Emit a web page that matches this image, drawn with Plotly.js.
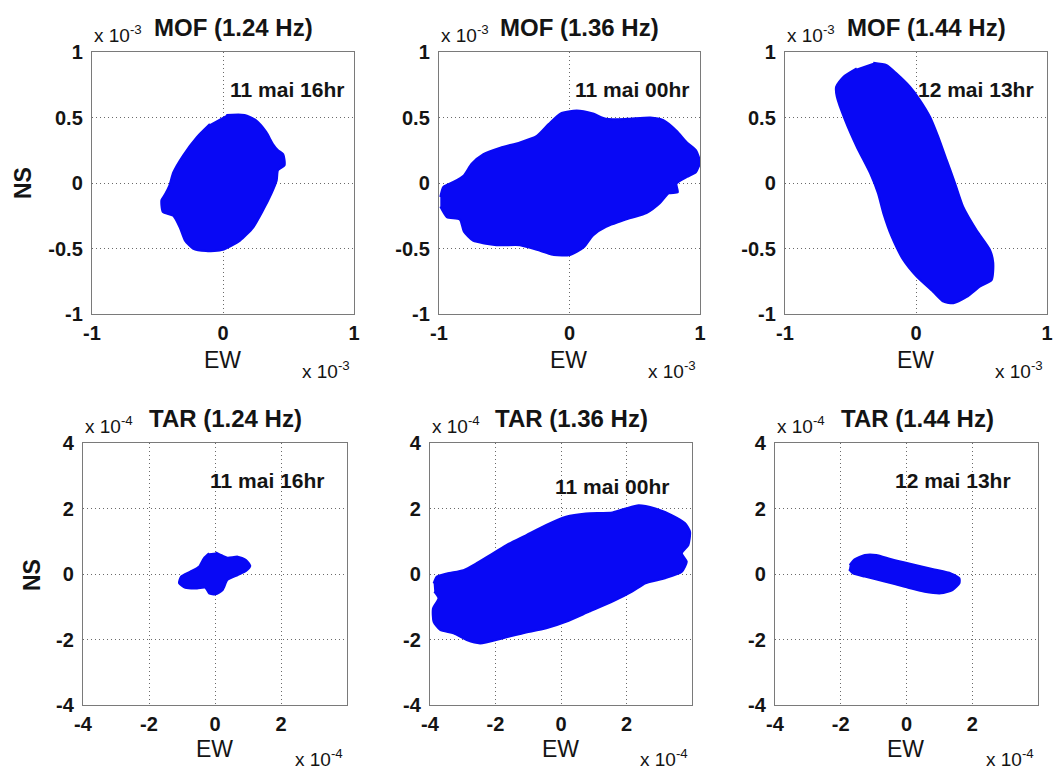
<!DOCTYPE html>
<html><head><meta charset="utf-8">
<script src="https://cdn.plot.ly/plotly-3.0.1.min.js"></script>
<style>html,body{margin:0;padding:0;background:#fff}</style>
</head><body><div id="chart" style="width:1055px;height:771px"></div>
<script>
// ---- data (values shown in axis units: x10^-3 for MOF, x10^-4 for TAR) ----
const stations = ['MOF','MOF','MOF','TAR','TAR','TAR'];
const freqs = ['1.24 Hz','1.36 Hz','1.44 Hz','1.24 Hz','1.36 Hz','1.44 Hz'];
const dates = ['11 mai 16hr','11 mai 00hr','12 mai 13hr','11 mai 16hr','11 mai 00hr','12 mai 13hr'];
const exponents = ['-3','-3','-3','-4','-4','-4'];
const topTicksX = [-1, 0, 1];
const topTickTextX = ['-1', '0', '1'];
const topTicksY = [-1, -0.5, 0, 0.5, 1];
const topTickTextY = ['-1', '-0.5', '0', '0.5', '1'];
const botTicksX = [-4, -2, 0, 2];
const botTickTextX = ['-4', '-2', '0', '2'];
const botTicksY = [-4, -2, 0, 2, 4];
const botTickTextY = ['-4', '-2', '0', '2', '4'];

// particle-motion envelope outlines (EW, NS)
const mof124_ew = [0.025,0.165,0.25,0.33,0.38,0.42,0.46,0.47,0.42,0.41,0.37,0.305,0.23,0.13,0.0,-0.13,-0.23,-0.29,-0.33,-0.38,-0.46,-0.47,-0.445,-0.41,-0.38,-0.305,-0.20,-0.10];
const mof124_ns = [0.52,0.52,0.48,0.39,0.30,0.25,0.22,0.135,0.097,0.02,-0.08,-0.21,-0.34,-0.44,-0.51,-0.52,-0.50,-0.44,-0.34,-0.25,-0.22,-0.13,-0.09,-0.02,0.08,0.21,0.35,0.45];

const mof136_ew = [-0.99,-0.967,-0.89,-0.81,-0.75,-0.66,-0.53,-0.38,-0.25,-0.16,-0.07,0.055,0.18,0.28,0.44,0.62,0.72,0.82,0.90,0.97,1.0,0.97,0.90,0.82,0.83,0.76,0.69,0.59,0.46,0.28,0.18,0.11,0.004,-0.12,-0.25,-0.38,-0.56,-0.74,-0.81,-0.84,-0.94,-0.99];
const mof136_ns = [-0.107,-0.03,0.008,0.058,0.147,0.22,0.27,0.31,0.36,0.45,0.53,0.553,0.53,0.49,0.49,0.50,0.48,0.40,0.31,0.25,0.16,0.084,0.046,-0.005,-0.07,-0.08,-0.157,-0.23,-0.27,-0.335,-0.40,-0.49,-0.55,-0.55,-0.51,-0.475,-0.475,-0.44,-0.37,-0.28,-0.26,-0.18];

const mof144_ew = [-0.326,-0.224,-0.15,-0.046,0.03,0.107,0.17,0.234,0.298,0.36,0.463,0.565,0.59,0.578,0.49,0.387,0.285,0.21,0.13,0.005,-0.097,-0.186,-0.25,-0.29,-0.35,-0.453,-0.542,-0.605,-0.61,-0.555,-0.453];
const mof144_ns = [0.918,0.90,0.837,0.735,0.634,0.506,0.354,0.176,0,-0.18,-0.36,-0.51,-0.61,-0.74,-0.79,-0.87,-0.918,-0.906,-0.83,-0.715,-0.588,-0.41,-0.23,-0.08,0.074,0.277,0.48,0.66,0.735,0.81,0.875];

const tar124_ew = [0.02,0.23,0.38,0.69,0.94,1.07,0.94,0.69,0.38,0.23,0.02,-0.18,-0.29,-0.54,-0.90,-1.09,-1.03,-0.75,-0.49,-0.34,-0.18];
const tar124_ns = [0.66,0.56,0.5,0.53,0.43,0.25,0.09,-0.03,-0.18,-0.49,-0.62,-0.59,-0.42,-0.44,-0.42,-0.28,-0.08,0.07,0.22,0.48,0.63];

const tar136_ew = [-3.89,-3.79,-3.48,-2.98,-2.58,-2.17,-1.67,-1.06,-0.45,0.15,0.76,1.57,1.97,2.37,2.88,3.38,3.79,3.94,3.89,3.69,3.84,3.69,3.18,2.58,2.17,1.57,0.86,0.15,-0.45,-1.16,-1.77,-2.47,-2.88,-3.28,-3.69,-3.89,-3.91,-3.74,-3.87];
const tar136_ns = [-0.285,-0.08,0.02,0.12,0.33,0.58,0.885,1.19,1.5,1.75,1.85,1.88,2.0,2.1,2.0,1.8,1.55,1.29,0.885,0.63,0.38,0.07,-0.13,-0.285,-0.54,-0.845,-1.15,-1.46,-1.66,-1.81,-1.96,-2.12,-2.02,-1.81,-1.71,-1.46,-1.05,-0.74,-0.54];

const tar144_ew = [-1.73,-1.58,-1.27,-0.92,-0.46,0.14,0.85,1.35,1.61,1.61,1.40,1.05,0.55,-0.06,-0.67,-1.27,-1.63,-1.75];
const tar144_ns = [0.275,0.45,0.58,0.58,0.45,0.305,0.14,0.02,-0.13,-0.285,-0.49,-0.59,-0.54,-0.39,-0.23,-0.08,0.02,0.14];

const dateX = [0.49, 0.48, 0.46, 1.57, 1.57, 1.42];
const dateY = [0.71, 0.71, 0.71, 2.84, 2.66, 2.84];

const blobsEW = [mof124_ew, mof136_ew, mof144_ew, tar124_ew, tar136_ew, tar144_ew];
const blobsNS = [mof124_ns, mof136_ns, mof144_ns, tar124_ns, tar136_ns, tar144_ns];

// ---- layout ----
const W = 1055, H = 771;
const boxes = [[92,354,52,314],[439,700,52,314],[785,1047,52,314],[83,347,443,705],[430,692,443,705],[775,1038,443,705]];
const px = v => v / W;
const py = v => 1 - v / H;
const BLUE = 'rgb(8,8,245)';
const FONT = 'Arial, "Liberation Sans", sans-serif';
const INK = '#141414';

const traces = [];
const layout = {
  width: W, height: H, margin: {l:0, r:0, t:0, b:0},
  paper_bgcolor: '#fff', plot_bgcolor: '#fff', showlegend: false,
  annotations: []
};

for (let i = 0; i < 6; i++) {
  const k = i === 0 ? '' : String(i + 1);
  const top = i < 3;
  const [l, r, t, b] = boxes[i];
  traces.push({
    type: 'scatter', mode: 'lines', x: blobsEW[i], y: blobsNS[i],
    xaxis: 'x' + k, yaxis: 'y' + k, fill: 'toself', fillcolor: BLUE,
    line: {color: BLUE, width: 2, shape: 'spline', smoothing: 0.6},
    hoverinfo: 'skip'
  });
  const common = {
    showline: true, mirror: true, linecolor: '#7a7a7a', linewidth: 1.2,
    showgrid: true, gridcolor: '#6a6a6a', griddash: '1px,3px', gridwidth: 1,
    zeroline: false, ticks: '', fixedrange: true,
    tickfont: {family: FONT, size: 20, color: INK, weight: 'bold'}
  };
  layout['xaxis' + k] = Object.assign({}, common, {
    domain: [px(l), px(r)], anchor: 'y' + k,
    range: top ? [-1, 1] : [-4, 4],
    tickvals: top ? topTicksX : botTicksX, ticktext: top ? topTickTextX : botTickTextX,
    ticklabelstandoff: 1
  });
  layout['yaxis' + k] = Object.assign({}, common, {
    domain: [py(b), py(t)], anchor: 'x' + k,
    range: top ? [-1, 1] : [-4, 4],
    tickvals: top ? topTicksY : botTicksY, ticktext: top ? topTickTextY : botTickTextY,
    ticklabelstandoff: 4
  });
  const w = r - l;
  const x0px = (l + r) / 2;
  // top multiplier
  layout.annotations.push({xref:'paper', yref:'paper', x: px(l), y: py(t - 18), xanchor:'left', yanchor:'middle',
    text: 'x 10<sup>' + exponents[i] + '</sup>', showarrow:false, font:{family:FONT, size:19, color:INK}});
  // title
  layout.annotations.push({xref:'paper', yref:'paper', x: px(l + 0.54 * w), y: py(t - 24), xanchor:'center', yanchor:'middle',
    text: stations[i] + ' (' + freqs[i] + ')', showarrow:false, font:{family:FONT, size:24, color:INK, weight:'bold'}});
  // bottom-right multiplier
  layout.annotations.push({xref:'paper', yref:'paper', x: px(r - 2), y: py(b + (top ? 56 : 53)), xanchor:'right', yanchor:'middle',
    text: 'x 10<sup>' + exponents[i] + '</sup>', showarrow:false, font:{family:FONT, size:19, color:INK}});
  // EW label
  layout.annotations.push({xref:'paper', yref:'paper', x: px(x0px - 1), y: py(b + (top ? 46 : 44)), xanchor:'center', yanchor:'middle',
    text: 'EW', showarrow:false, font:{family:FONT, size:23, color:INK}});
  // date label
  layout.annotations.push({xref:'x' + k, yref:'y' + k, x: dateX[i], y: dateY[i], xanchor:'center', yanchor:'middle',
    text: dates[i], showarrow:false, font:{family:FONT, size:21, color:INK, weight:'bold'}});
}
// NS labels
layout.annotations.push({xref:'paper', yref:'paper', x: px(23), y: py(183), xanchor:'center', yanchor:'middle', textangle:-90,
  text: 'NS', showarrow:false, font:{family:FONT, size:23, color:INK, weight:'bold'}});
layout.annotations.push({xref:'paper', yref:'paper', x: px(32), y: py(575), xanchor:'center', yanchor:'middle', textangle:-90,
  text: 'NS', showarrow:false, font:{family:FONT, size:23, color:INK, weight:'bold'}});

Plotly.newPlot('chart', traces, layout, {staticPlot: true, displayModeBar: false});
</script></body></html>
